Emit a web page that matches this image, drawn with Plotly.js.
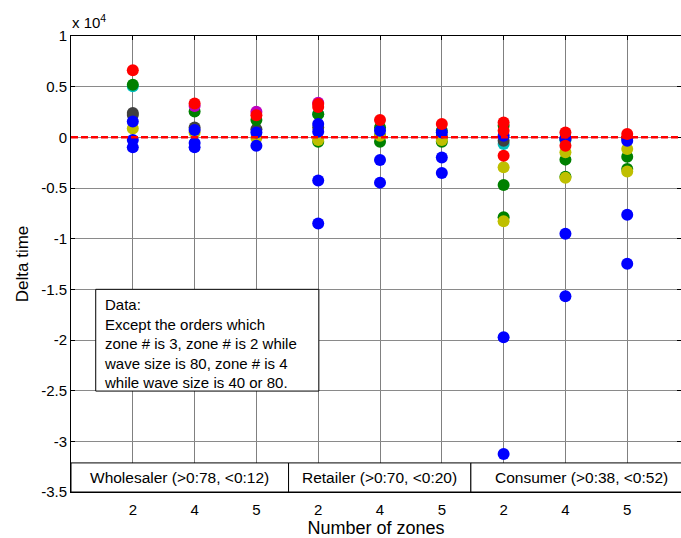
<!DOCTYPE html>
<html>
<head>
<meta charset="utf-8">
<script src="https://cdn.plot.ly/plotly-3.0.1.min.js"></script>
<style>
  html, body { margin: 0; padding: 0; background: #fff; }
  #chart { width: 681px; height: 538px; }
</style>
</head>
<body>
<div id="chart"></div>
<script>
// Column positions 1..9: three customer segments x three zone counts
const zoneLabels = ['2', '4', '5', '2', '4', '5', '2', '4', '5'];
const segmentLabels = ['Wholesaler (>0:78, <0:12)', 'Retailer (>0:70, <0:20)', 'Consumer (>0:38, <0:52)'];
const segmentEdges = [0, 3.52, 6.47, 10.5];
const yTicks = [10000, 5000, 0, -5000, -10000, -15000, -20000, -25000, -30000, -35000];
const yTickText = ['1', '0.5', '0', '-0.5', '-1', '-1.5', '-2', '-2.5', '-3', '-3.5'];

// Delta time per order group, by column
const cyanCol = [1, 4, 7, 8, 9];
const cyanDelta = [5050, 2300, -660, -300, -100];

const grayCol = [1, 1, 2, 3, 4, 5, 6, 7, 8, 9];
const grayDelta = [2390, 2200, 980, 800, 980, 160, 100, -330, -170, -50];

const greenCol = [1, 2, 3, 4, 4, 5, 5, 6, 6, 7, 7, 7, 8, 8, 9, 9];
const greenDelta = [5180, 2550, 1700, 2290, -430, 980, -430, 650, -430, 1140, -4700, -7880, -2200, -3880, -1910, -3120];

const yellowCol = [1, 2, 3, 4, 5, 6, 7, 7, 8, 8, 9, 9];
const yellowDelta = [880, 480, -70, -270, 160, -270, -2960, -8270, -1480, -4000, -1150, -3380];

const blueCol = [1, 1, 1, 2, 2, 2, 3, 3, 4, 4, 4, 4, 5, 5, 5, 6, 6, 6, 7, 7, 7, 8, 8, 8, 9, 9, 9];
const blueDelta = [1570, -270, -990, 720, -560, -990, 480, -830, 1310, 550, -4270, -8500, 650, -2240, -4470, 480, -2000, -3520, 160, -19730, -31250, -100, -9520, -15690, -330, -7650, -12470];

const magentaCol = [2, 3, 4];
const magentaDelta = [3100, 2520, 3420];

const redCol = [1, 2, 3, 4, 4, 5, 6, 7, 7, 7, 8, 8, 9];
const redDelta = [6620, 3340, 2190, 3300, 3000, 1700, 1310, 1470, 650, -1810, 480, -830, 320];

function dots(col, delta, color) {
  return {
    type: 'scatter', mode: 'markers', x: col, y: delta,
    marker: { color: color, size: 12, line: { width: 0 } },
    hoverinfo: 'x+y', showlegend: false, cliponaxis: true
  };
}

const traces = [
  dots(cyanCol, cyanDelta, '#00bfbf'),
  dots(grayCol, grayDelta, '#404040'),
  dots(greenCol, greenDelta, '#008000'),
  dots(yellowCol, yellowDelta, '#bfbf00'),
  dots(blueCol, blueDelta, '#0000ff'),
  dots(magentaCol, magentaDelta, '#bf00bf'),
  dots(redCol, redDelta, '#ff0000')
];

const FONT = 'Liberation Sans, Arial, sans-serif';
const bandTop = -32130;

const shapes = [
  // zero reference line
  { type: 'line', xref: 'x', yref: 'y', x0: 0, x1: 10.5, y0: 0, y1: 0,
    line: { color: '#ff0000', width: 2.5, dash: '7px,3px' }, layer: 'above' },
  // note box
  { type: 'rect', xref: 'x', yref: 'y', x0: 0.40, x1: 4.01, y0: -25040, y1: -15000,
    fillcolor: '#ffffff', line: { color: '#000000', width: 1 }, layer: 'above' }
];
const annotations = [
  { xref: 'paper', yref: 'paper', x: -0.002, y: 1.0, xanchor: 'left', yanchor: 'bottom',
    yshift: 3, text: 'x 10<sup>4</sup>', showarrow: false, font: { family: FONT, size: 15, color: '#000' } },
  { xref: 'x', yref: 'y', x: 0.50, y: -15500, xanchor: 'left', yanchor: 'top', align: 'left',
    text: 'Data:<br>Except the orders which<br>zone # is 3, zone # is 2 while<br>wave size is 80, zone # is 4<br>while wave size is 40 or 80.',
    showarrow: false, font: { family: FONT, size: 15, color: '#000' } }
];
for (let i = 0; i < segmentLabels.length; i++) {
  shapes.push({ type: 'rect', xref: 'x', yref: 'y', x0: segmentEdges[i], x1: segmentEdges[i + 1],
    y0: -35000, y1: bandTop, fillcolor: '#ffffff', line: { color: '#000000', width: 1 }, layer: 'above' });
  annotations.push({ xref: 'x', yref: 'y', x: (segmentEdges[i] + segmentEdges[i + 1]) / 2 - (i === 2 ? 0.22 : 0),
    y: (bandTop - 35000) / 2, text: segmentLabels[i], showarrow: false,
    font: { family: FONT, size: 15.5, color: '#000' } });
}

const layout = {
  width: 681, height: 538,
  margin: { l: 71, r: 0, t: 36, b: 46, pad: 0 },
  paper_bgcolor: '#ffffff', plot_bgcolor: '#ffffff',
  font: { family: FONT, size: 15, color: '#000' },
  xaxis: {
    range: [0, 9.87], tickvals: [1, 2, 3, 4, 5, 6, 7, 8, 9], ticktext: zoneLabels,
    showgrid: true, gridcolor: '#808080', gridwidth: 1, zeroline: false,
    showline: true, linecolor: '#000', linewidth: 1, mirror: 'ticks',
    ticks: 'inside', ticklen: 4, tickcolor: '#000', ticklabelstandoff: 4,
    tickfont: { family: FONT, size: 15 },
    title: { text: 'Number of zones', font: { family: FONT, size: 18 }, standoff: 2 },
    automargin: false, fixedrange: true
  },
  yaxis: {
    range: [-35000, 10000], tickvals: yTicks, ticktext: yTickText,
    showgrid: true, gridcolor: '#8a8a8a', gridwidth: 1, zeroline: false,
    showline: true, linecolor: '#000', linewidth: 1, mirror: 'ticks',
    ticks: 'inside', ticklen: 4, tickcolor: '#000',
    tickfont: { family: FONT, size: 15 },
    title: { text: 'Delta time', font: { family: FONT, size: 17 }, standoff: 8 },
    automargin: false, fixedrange: true
  },
  shapes: shapes,
  annotations: annotations,
  showlegend: false
};

Plotly.newPlot('chart', traces, layout, { displayModeBar: false, staticPlot: true });
</script>
</body>
</html>
